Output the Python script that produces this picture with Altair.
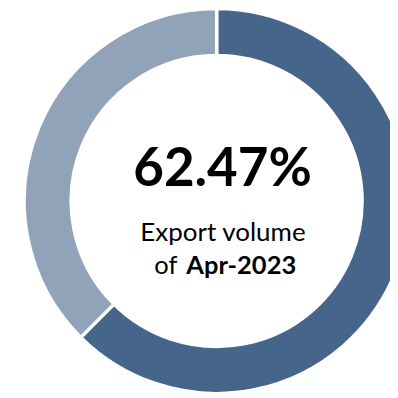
import altair as alt
import pandas as pd

categories = ["Export", "Other"]
shares = [62.47, 37.53]
colors = ["#45658A", "#91A3B8"]
headline = ["62.47%"]
line1 = ["Export volume"]
line2_prefix = ["of"]
line2_bold = ["Apr-2023"]

df = pd.DataFrame({"cat": categories, "share": shares, "ord": [0, 1]})

DX = 2
CX, CY = 211 + DX, 193

donut = alt.Chart(df).mark_arc(
    outerRadius=196.5, innerRadius=148.5, stroke="white", strokeWidth=3.5
).encode(
    theta=alt.Theta("share:Q", stack=True),
    order=alt.Order("ord:Q"),
    color=alt.Color("cat:N", scale=alt.Scale(domain=categories, range=colors), legend=None),
    x=alt.value(CX),
    y=alt.value(CY),
)

font = "Lato"

t_head = alt.Chart(pd.DataFrame({"t": headline})).mark_text(
    font=font, fontSize=54, fontWeight="bold", color="#000000", align="center", baseline="alphabetic"
).encode(text="t:N", x=alt.value(217 + DX), y=alt.value(178))

t_l1 = alt.Chart(pd.DataFrame({"t": line1})).mark_text(
    font=font, fontSize=26.5, color="#000000", align="center", baseline="alphabetic"
).encode(text="t:N", x=alt.value(217.5 + DX), y=alt.value(234))

t_l2a = alt.Chart(pd.DataFrame({"t": line2_prefix})).mark_text(
    font=font, fontSize=26, color="#000000", align="right", baseline="alphabetic"
).encode(text="t:N", x=alt.value(171 + DX), y=alt.value(267))

t_l2b = alt.Chart(pd.DataFrame({"t": line2_bold})).mark_text(
    font=font, fontSize=26, fontWeight="bold", color="#000000", align="left", baseline="alphabetic"
).encode(text="t:N", x=alt.value(180 + DX), y=alt.value(267))

chart = alt.layer(donut, t_head, t_l1, t_l2a, t_l2b).properties(
    width=390, height=390, autosize=alt.AutoSizeParams(type="none"), padding=0
).configure_view(stroke=None)

chart.save("out.html", embed_options={"renderer": "svg", "actions": False})
